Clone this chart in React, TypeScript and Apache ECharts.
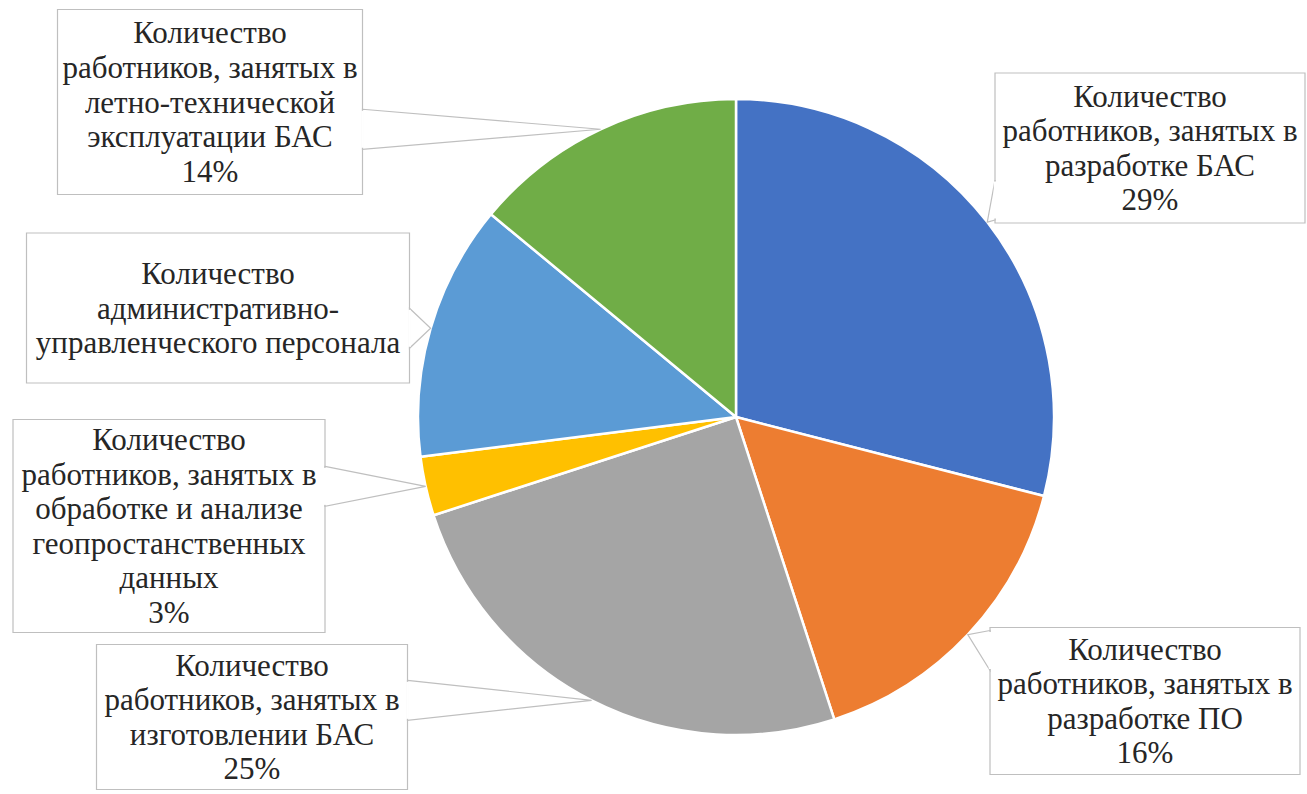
import React, { useEffect, useRef } from "react";
import * as echarts from "echarts";

const categories = [
  "Количество работников, занятых в разработке БАС",
  "Количество работников, занятых в разработке ПО",
  "Количество работников, занятых в изготовлении БАС",
  "Количество работников, занятых в обработке и анализе геопростанственных данных",
  "Количество административно-управленческого персонала",
  "Количество работников, занятых в летно-технической эксплуатации БАС",
];
const values = [29, 16, 25, 3, 13, 14];
const showPercent = [true, true, true, true, false, true];
const labelTextLines = [
  ["Количество", "работников, занятых в", "разработке БАС"],
  ["Количество", "работников, занятых в", "разработке ПО"],
  ["Количество", "работников, занятых в", "изготовлении БАС"],
  ["Количество", "работников, занятых в", "обработке и анализе", "геопростанственных", "данных"],
  ["Количество", "административно-", "управленческого персонала"],
  ["Количество", "работников, занятых в", "летно-технической", "эксплуатации БАС"],
];
const colors = ["#4472C4", "#ED7D31", "#A5A5A5", "#FFC000", "#5B9BD5", "#70AD47"];

// label box layout: centre x, centre y, width, height
const boxes = [
  [1150, 148, 310, 150],
  [1145, 701, 310, 147],
  [252, 717, 311, 145],
  [169, 526, 312, 213],
  [218, 308, 383, 150],
  [210, 102, 305, 185],
];

const CENTER = [736, 417];
const RADIUS = 318;
const LINE_H = 34.6;
const FONT = "Liberation Serif";
const FONT_SIZE = 31;

export default function App() {
  const ref = useRef<HTMLDivElement>(null);
  useEffect(() => {
    if (!ref.current) return;
    const chart = echarts.init(ref.current, null, { renderer: "svg" });
    const total = values.reduce((a, b) => a + b, 0);
    const tipFor = (i: number) => {
      let before = 0;
      for (let k = 0; k < i; k++) before += values[k];
      const mid = ((before + values[i] / 2) / total) * Math.PI * 2;
      return [CENTER[0] + RADIUS * Math.sin(mid), CENTER[1] - RADIUS * Math.cos(mid)];
    };
    const graphics: any[] = [];
    categories.forEach((_, i) => {
      const [cx, cy, w, h] = boxes[i];
      const left = cx - w / 2;
      const right = cx + w / 2;
      const top = cy - h / 2;
      const bottom = cy + h / 2;
      const tip = tipFor(i);
      const half = 20;
      const edgeX = tip[0] < left ? left : right;
      const by = Math.min(Math.max(tip[1], top + half + 3), bottom - half - 3);
      const lines = labelTextLines[i].slice();
      if (showPercent[i]) lines.push(Math.round((values[i] / total) * 100) + "%");
      graphics.push({
        type: "rect",
        z: 100,
        shape: { x: left, y: top, width: w, height: h },
        style: { fill: "#ffffff", stroke: "#BFBFBF", lineWidth: 1.2 },
      });
      graphics.push({
        type: "polygon",
        z: 101,
        shape: { points: [[edgeX, by - half], tip, [edgeX, by + half]] },
        style: { fill: "#ffffff", stroke: "#BFBFBF", lineWidth: 1.2 },
      });
      graphics.push({
        type: "line",
        z: 102,
        shape: { x1: edgeX, y1: by - half + 1.5, x2: edgeX, y2: by + half - 1.5 },
        style: { stroke: "#ffffff", lineWidth: 2.5 },
      });
      graphics.push({
        type: "text",
        z: 103,
        x: cx,
        y: cy,
        style: {
          text: lines.join("\n"),
          fontFamily: FONT,
          fontSize: FONT_SIZE,
          lineHeight: LINE_H,
          fill: "#262626",
          align: "center",
          verticalAlign: "middle",
        },
      });
    });
    chart.setOption({
      animation: false,
      backgroundColor: "#ffffff",
      graphic: graphics,
      series: [
        {
          type: "pie",
          center: CENTER,
          radius: RADIUS,
          startAngle: 90,
          clockwise: true,
          data: categories.map((name, i) => ({
            name,
            value: values[i],
            itemStyle: { color: colors[i] },
          })),
          itemStyle: { borderColor: "#ffffff", borderWidth: 2.5 },
          label: { show: false },
          labelLine: { show: false },
        },
      ],
    });
    return () => chart.dispose();
  }, []);
  return (
    <>
      <span
        aria-hidden="true"
        style={{ position: "fixed", left: 600, top: 400, zIndex: 0, fontFamily: FONT, fontSize: FONT_SIZE, color: "#ffffff" }}
      >
        Ко
      </span>
      <div
        ref={ref}
        style={{ position: "fixed", left: 0, top: 0, width: 1307, height: 794, zIndex: 1 }}
      />
    </>
  );
}
